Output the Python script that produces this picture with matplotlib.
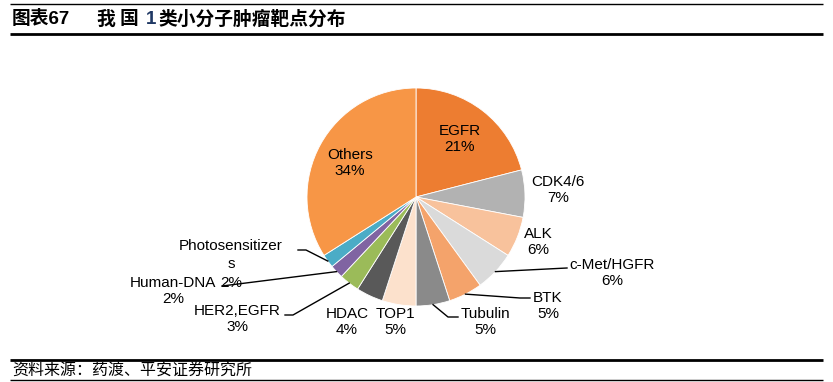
import numpy as np
import matplotlib
matplotlib.use("Agg")
import matplotlib.pyplot as plt

plt.rcParams['font.family'] = ['Liberation Sans', 'Noto Sans CJK SC', 'DejaVu Sans']

# data
targets = ['EGFR', 'CDK4/6', 'ALK', 'c-Met/HGFR', 'BTK', 'Tubulin', 'TOP1', 'HDAC',
           'HER2,EGFR', 'Human-DNA', 'Photosensitizers', 'Others']
shares = [21, 7, 6, 6, 5, 5, 5, 4, 3, 2, 2, 34]
colors = ['#ED7D31', '#B2B2B2', '#F8C29C', '#DADADA', '#F4A36B', '#8A8A8A',
          '#FCE1CC', '#595959', '#9BBB59', '#8064A2', '#4BACC6', '#F79646']

W, H = 833, 382
fig = plt.figure(figsize=(W / 100, H / 100), dpi=100)
ax = fig.add_axes([0, 0, 1, 1])

cx, cy, R = 416, H - 197, 109
wedges, _ = ax.pie(shares, colors=colors, startangle=90, counterclock=False,
                   center=(cx, cy), radius=R, frame=True,
                   wedgeprops=dict(edgecolor='white', linewidth=0.6))
ax.set_xlim(0, W)
ax.set_ylim(0, H)
ax.axis('off')
ax.set_aspect('equal')

# label anchor (pixel coords, y from top) and leader elbow points
label_pos = {
    'EGFR': (460, 139), 'CDK4/6': (558, 190), 'ALK': (538, 242),
    'c-Met/HGFR': (612, 273), 'BTK': (548, 306), 'Tubulin': (485, 322),
    'TOP1': (395, 322), 'HDAC': (347, 322), 'HER2,EGFR': (237, 319),
    'Human-DNA': (173, 291), 'Photosensitizers': (231, 246), 'Others': (350, 163),
}
leaders = {
    'c-Met/HGFR': [(567, 268)],
    'BTK': [(520, 298), (530, 298)],
    'Tubulin': [(448, 317), (458, 317)],
    'HER2,EGFR': [(293, 315), (285, 315)],
    'Human-DNA': [(222, 286)],
    'Photosensitizers': [(306, 250), (298, 250)],
}

for w, name, val in zip(wedges, targets, shares):
    x, y = label_pos[name]
    if name == 'Photosensitizers':
        # wrapped one letter onto its own line, as in the source
        for i, part in enumerate(['Photosensitizer', 's', '%d%%' % val]):
            ax.text(x, H - y - 18.5 * i, part, ha='center', va='center',
                    fontsize=11, color='black')
    else:
        txt = '%s\n%d%%' % (name, val)
        ax.text(x, H - y, txt, ha='center', va='center', fontsize=11,
                linespacing=1.12, color='black')
    if name in leaders:
        ang = np.deg2rad((w.theta1 + w.theta2) / 2)
        pts = [(cx + R * np.cos(ang), cy + R * np.sin(ang))]
        pts += [(px, H - py) for px, py in leaders[name]]
        xs, ys = zip(*pts)
        ax.plot(xs, ys, color='black', linewidth=1.0)

# title & footer
ty = 1 - 19 / H
cjk = ['Noto Sans CJK SC']
fig.text(12 / W, ty, '图表67', fontsize=13.5, fontweight='bold',
         family=['Liberation Sans', 'Noto Sans CJK SC'], va='center')
fig.text(96 / W, ty, '我', fontsize=13.5, fontweight='bold', family=cjk, va='center')
fig.text(120 / W, ty, '国', fontsize=13.5, fontweight='bold', family=cjk, va='center')
fig.text(146 / W, ty, '1', fontsize=13.5, fontweight='bold',
         color='#1F3864', family=['Liberation Sans'], va='center')
fig.text(158 / W, ty, '类小分子肿瘤靶点分布', fontsize=13.5, fontweight='bold',
         family=cjk, va='center')
fig.text(12 / W, 1 - 371 / H, '资料来源：药渡、平安证券研究所', fontsize=11.5,
         family=cjk, va='center')

for y, lw in [(4, 1.0), (34, 2.0), (360, 2.0), (380, 1.0)]:
    ax.plot([10, 823], [H - y, H - y], color='black', linewidth=lw,
            solid_capstyle='butt')

fig.savefig('out.png', dpi=100)
